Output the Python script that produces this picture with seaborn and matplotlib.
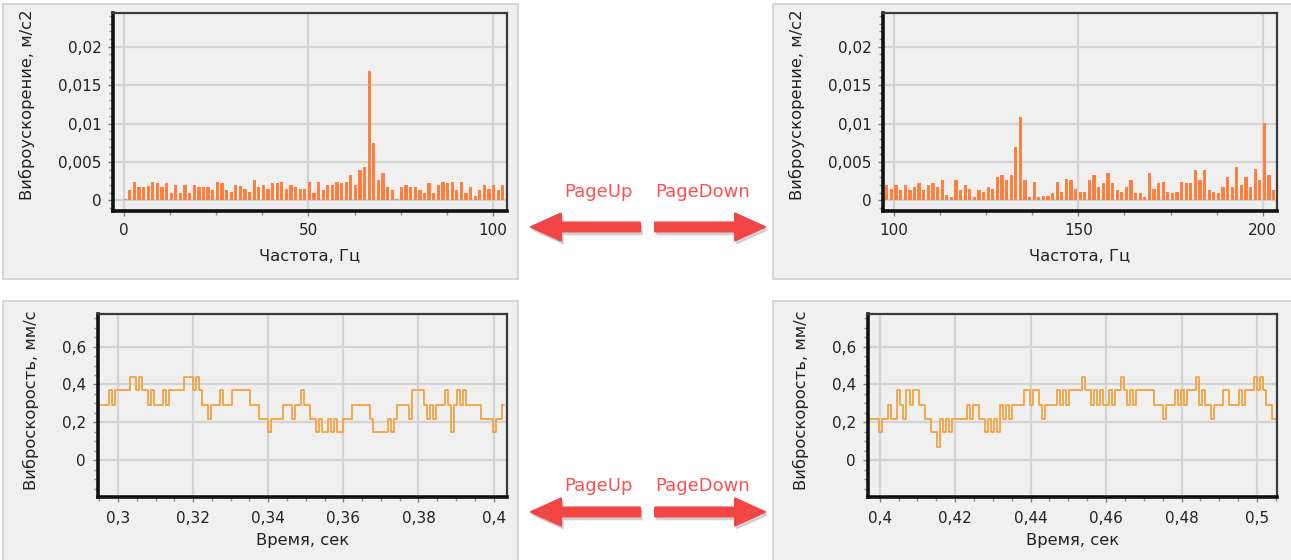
import numpy as np
import matplotlib
matplotlib.use("Agg")
import matplotlib.pyplot as plt
from matplotlib.patches import Rectangle, FancyArrow
from matplotlib.ticker import MultipleLocator, FuncFormatter
import seaborn as sns

# spectrum bins (Hz) and acceleration amplitudes, m/s2
freq_step = 1.25
freq_start_low = 0.25
freq_start_high = 98.0
acc_low = [
    0.0001, 0.0013, 0.0024, 0.0017, 0.0017, 0.0018, 0.0024, 0.0022, 0.0017, 0.0022,
    0.0009, 0.0020, 0.0009, 0.0020, 0.0009, 0.0020, 0.0017, 0.0017, 0.0017, 0.0013,
    0.0024, 0.0022, 0.0013, 0.0011, 0.0020, 0.0018, 0.0015, 0.0011, 0.0026, 0.0017,
    0.0020, 0.0015, 0.0022, 0.0022, 0.0024, 0.0015, 0.0020, 0.0017, 0.0015, 0.0015,
    0.0024, 0.0009, 0.0024, 0.0013, 0.0020, 0.0020, 0.0024, 0.0022, 0.0024, 0.0033,
    0.0020, 0.0039, 0.0043, 0.0169, 0.0075, 0.0026, 0.0035, 0.0017, 0.0013, 0.0002,
    0.0017, 0.0020, 0.0017, 0.0017, 0.0013, 0.0009, 0.0022, 0.0009, 0.0020, 0.0024,
    0.0023, 0.0024, 0.0013, 0.0024, 0.0009, 0.0017, 0.0005, 0.0013, 0.0020, 0.0015,
    0.0020, 0.0013, 0.0020,
]
acc_high = [
    0.0020, 0.0015, 0.0020, 0.0013, 0.0020, 0.0013, 0.0017, 0.0022, 0.0013, 0.0020,
    0.0022, 0.0017, 0.0026, 0.0007, 0.0004, 0.0026, 0.0013, 0.0020, 0.0015, 0.0004,
    0.0013, 0.0011, 0.0017, 0.0015, 0.0030, 0.0033, 0.0026, 0.0033, 0.0069, 0.0108,
    0.0026, 0.0004, 0.0024, 0.0004, 0.0006, 0.0006, 0.0009, 0.0024, 0.0011, 0.0028,
    0.0026, 0.0015, 0.0011, 0.0011, 0.0026, 0.0033, 0.0017, 0.0022, 0.0035, 0.0022,
    0.0013, 0.0011, 0.0017, 0.0026, 0.0009, 0.0009, 0.0004, 0.0035, 0.0015, 0.0022,
    0.0024, 0.0011, 0.0009, 0.0011, 0.0024, 0.0022, 0.0022, 0.0039, 0.0026, 0.0039,
    0.0013, 0.0011, 0.0009, 0.0017, 0.0030, 0.0017, 0.0043, 0.0020, 0.0030, 0.0017,
    0.0041, 0.0026, 0.0101, 0.0033, 0.0013,
]

# velocity samples, mm/s
time_step = 0.0008
time_start_a = 0.2947
time_start_b = 0.3971
vel_a = [
    0.29, 0.29, 0.29, 0.29, 0.37, 0.29, 0.37, 0.37, 0.37, 0.37,
    0.37, 0.44, 0.44, 0.37, 0.44, 0.37, 0.37, 0.29, 0.37, 0.29,
    0.29, 0.29, 0.37, 0.29, 0.37, 0.37, 0.37, 0.37, 0.37, 0.44,
    0.44, 0.44, 0.37, 0.44, 0.37, 0.29, 0.29, 0.22, 0.29, 0.29,
    0.29, 0.37, 0.29, 0.29, 0.29, 0.37, 0.37, 0.37, 0.37, 0.37,
    0.37, 0.29, 0.29, 0.29, 0.22, 0.22, 0.22, 0.15, 0.22, 0.22,
    0.22, 0.22, 0.29, 0.29, 0.29, 0.22, 0.29, 0.29, 0.37, 0.29,
    0.29, 0.22, 0.22, 0.15, 0.22, 0.15, 0.15, 0.22, 0.15, 0.22,
    0.15, 0.15, 0.22, 0.22, 0.22, 0.29, 0.29, 0.29, 0.29, 0.29,
    0.29, 0.22, 0.15, 0.15, 0.15, 0.15, 0.15, 0.22, 0.15, 0.22,
    0.29, 0.29, 0.29, 0.29, 0.22, 0.37, 0.37, 0.37, 0.37, 0.29,
    0.22, 0.29, 0.22, 0.29, 0.29, 0.29, 0.37, 0.29, 0.15, 0.29,
    0.37, 0.29, 0.37, 0.29, 0.29, 0.29, 0.29, 0.29, 0.22, 0.22,
    0.22, 0.22, 0.15, 0.22, 0.22, 0.29,
]
vel_b = [
    0.22, 0.22, 0.22, 0.22, 0.15, 0.22, 0.22, 0.29, 0.22, 0.22,
    0.37, 0.29, 0.22, 0.37, 0.29, 0.37, 0.37, 0.29, 0.29, 0.22,
    0.22, 0.15, 0.15, 0.07, 0.22, 0.15, 0.22, 0.15, 0.22, 0.22,
    0.22, 0.22, 0.22, 0.29, 0.22, 0.29, 0.29, 0.22, 0.22, 0.15,
    0.22, 0.15, 0.22, 0.15, 0.29, 0.22, 0.29, 0.22, 0.29, 0.29,
    0.29, 0.29, 0.37, 0.37, 0.29, 0.37, 0.37, 0.29, 0.22, 0.29,
    0.29, 0.29, 0.29, 0.37, 0.29, 0.37, 0.29, 0.37, 0.37, 0.37,
    0.37, 0.44, 0.37, 0.37, 0.29, 0.37, 0.29, 0.37, 0.29, 0.29,
    0.37, 0.29, 0.37, 0.37, 0.44, 0.37, 0.29, 0.37, 0.29, 0.37,
    0.37, 0.37, 0.37, 0.37, 0.37, 0.29, 0.29, 0.29, 0.22, 0.29,
    0.29, 0.29, 0.37, 0.29, 0.37, 0.29, 0.37, 0.37, 0.37, 0.44,
    0.29, 0.37, 0.29, 0.29, 0.22, 0.29, 0.29, 0.29, 0.37, 0.37,
    0.29, 0.29, 0.29, 0.37, 0.29, 0.37, 0.37, 0.37, 0.44, 0.37,
    0.44, 0.37, 0.29, 0.29, 0.22, 0.22,
]

BAR_COLOR = "#ff7f3f"
LINE_COLOR = "#f4a23f"
PANEL = "#f0f0f0"
ARROW = "#f24545"
TXT = '#222222'
W, H = 1291, 560

sns.set_style("white")
plt.rcParams['font.family'] = ['DejaVu Sans']


def comma(v, pos):
    return f"{v:g}".replace(".", ",")


def px_axes(fig, left, top, right, bottom):
    return fig.add_axes([left / W, 1 - bottom / H, (right - left) / W, (bottom - top) / H])


def style_axes(ax, xpad, ypad):
    ax.set_facecolor(PANEL)
    ax.grid(True, which='major', color='#d4d4d4', lw=1.6)
    ax.set_axisbelow(True)
    for s in ['left', 'bottom']:
        ax.spines[s].set_linewidth(2.6)
        ax.spines[s].set_color('#111111')
    for s in ['top', 'right']:
        ax.spines[s].set_linewidth(1.6)
        ax.spines[s].set_color('#3a3a3a')
    ax.tick_params(which='major', direction='out', length=3.6, width=1, color='#808080',
                   labelsize=11, labelcolor=TXT, left=True, bottom=True)
    ax.tick_params(which='minor', direction='out', length=2.6, width=1, color='#909090',
                   left=True, bottom=True)
    ax.tick_params(axis='x', pad=xpad)
    ax.tick_params(axis='y', pad=ypad)
    ax.xaxis.set_major_formatter(FuncFormatter(comma))
    ax.yaxis.set_major_formatter(FuncFormatter(comma))


def spectrum(ax, start, values, xlim, xticks):
    freqs = start + np.arange(len(values)) * freq_step
    sns.barplot(x=freqs, y=values, native_scale=True, width=0.7, color=BAR_COLOR,
                saturation=1, linewidth=0, errorbar=None, ax=ax)
    style_axes(ax, 5, 4.5)
    ax.set_xlim(*xlim)
    ax.set_ylim(-0.0014, 0.0244)
    ax.set_xticks(xticks)
    ax.xaxis.set_minor_locator(MultipleLocator(12.5))
    ax.yaxis.set_major_locator(MultipleLocator(0.005))
    ax.yaxis.set_minor_locator(MultipleLocator(0.001))
    ax.set_xlabel("Частота, Гц", fontsize=11.8, color=TXT)
    ax.set_ylabel("Виброускорение, м/с2", fontsize=11.8, color=TXT)
    ax.xaxis.set_label_coords(0.5, -0.19)
    ax.yaxis.set_label_coords(-0.198, 0.535)


def velocity(ax, start, values, xlim):
    t = start + np.arange(len(values)) * time_step
    sns.lineplot(x=t, y=values, color=LINE_COLOR, lw=1.3, estimator=None,
                 drawstyle='steps-mid', ax=ax)
    style_axes(ax, 6.5, 5)
    ax.set_xlim(*xlim)
    ax.set_ylim(-0.194, 0.772)
    ax.xaxis.set_major_locator(MultipleLocator(0.02))
    ax.xaxis.set_minor_locator(MultipleLocator(0.005))
    ax.yaxis.set_major_locator(MultipleLocator(0.2))
    ax.yaxis.set_minor_locator(MultipleLocator(0.05))
    ax.set_xlabel("Время, сек", fontsize=11.8, color=TXT)
    ax.set_ylabel("Виброскорость, мм/с", fontsize=11.8, color=TXT)
    ax.xaxis.set_label_coords(0.5, -0.195)
    ax.yaxis.set_label_coords(-0.145, 0.53)


fig = plt.figure(figsize=(W / 100, H / 100), dpi=100)
fig.patch.set_facecolor('white')

# background: grey panels and the page arrows
bg = fig.add_axes([0, 0, 1, 1])
bg.set_xlim(0, W)
bg.set_ylim(H, 0)
bg.axis('off')
for x0, y0, w, h in [(3, 4, 515, 275), (773, 4, 520, 275), (3, 301, 515, 262), (773, 301, 520, 262)]:
    bg.add_patch(Rectangle((x0, y0), w, h, facecolor=PANEL, edgecolor='#cfcfcf', lw=1.2))

for y_arrow, y_text in [(227, 192), (512, 486)]:
    for xs, xe in [(640, 531), (655, 765)]:
        for off, col, a in [((2, 3), '#000000', 0.12), ((0, 0), ARROW, 1.0)]:
            bg.add_patch(FancyArrow(xs + off[0], y_arrow + off[1], xe - xs, 0, width=9,
                                    head_width=27, head_length=30, length_includes_head=True,
                                    facecolor=col, edgecolor=col, lw=1.5, alpha=a,
                                    joinstyle='round'))
    bg.text(598, y_text, "PageUp", color='#ff5050', fontsize=13, ha='center', va='center')
    bg.text(703, y_text, "PageDown", color='#ff5050', fontsize=13, ha='center', va='center')

ax1 = px_axes(fig, 113, 13, 507, 211)
spectrum(ax1, freq_start_low, acc_low, (-3.07, 103.9), [0, 50, 100])

ax2 = px_axes(fig, 883, 13, 1277, 211)
spectrum(ax2, freq_start_high, acc_high, (96.95, 203.9), [100, 150, 200])

ax3 = px_axes(fig, 98, 314, 507, 497)
velocity(ax3, time_start_a, vel_a, (0.29467, 0.40357))

ax4 = px_axes(fig, 868, 314, 1277, 497)
velocity(ax4, time_start_b, vel_b, (0.3969, 0.5053))

fig.savefig("out.png", dpi=100)
